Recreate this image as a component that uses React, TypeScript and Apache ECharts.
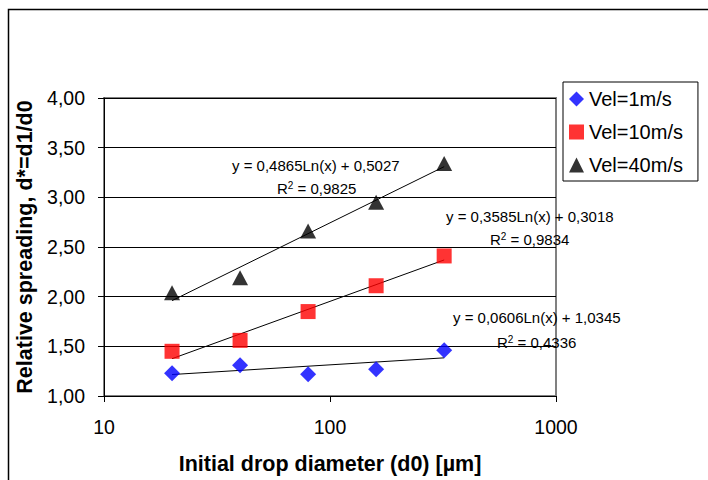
import React, { useEffect, useRef } from "react";
import * as echarts from "echarts";

// Initial drop diameters (µm)
const diameters = [20, 40, 80, 160, 320];
// Relative spreading d* = d1/d0 for each impact velocity
const vel1 = [1.23, 1.31, 1.22, 1.27, 1.46];
const vel10 = [1.45, 1.56, 1.85, 2.11, 2.41];
const vel40 = [2.04, 2.19, 2.66, 2.95, 3.34];

const seriesNames = ["Vel=1m/s", "Vel=10m/s", "Vel=40m/s"];
// Logarithmic trend lines y = a·ln(x) + b
const trendA = [0.0606, 0.3585, 0.4865];
const trendB = [1.0345, 0.3018, 0.5027];
const trendR2 = ["0,4336", "0,9834", "0,9825"];

const xTicks = [10, 100, 1000];
const yTicks = [1, 1.5, 2, 2.5, 3, 3.5, 4];

const FONT = "'Liberation Sans', Arial, sans-serif";

const comma = (v: number, d: number) => v.toFixed(d).replace(".", ",");

export default function App() {
  const ref = useRef<HTMLDivElement>(null);

  useEffect(() => {
    if (!ref.current) return;
    const chart = echarts.init(ref.current, undefined, { renderer: "svg" });

    const pts = (ys: number[]) => diameters.map((x, i) => [x, ys[i]]);
    const trend = (i: number) => {
      const x0 = diameters[0];
      const x1 = diameters[diameters.length - 1];
      return [
        [x0, trendA[i] * Math.log(x0) + trendB[i]],
        [x1, trendA[i] * Math.log(x1) + trendB[i]],
      ];
    };

    const eqText = (i: number) =>
      `y = ${comma(trendA[i], 4)}Ln(x) + ${comma(trendB[i], 4)}`;

    const eqStyle = { fontSize: 15, fontFamily: FONT, fill: "#000" };
    const r2Rich = {
      sup: { fontSize: 10, fontFamily: FONT, verticalAlign: "top", padding: [0, 0, 7, 0] },
      n: { fontSize: 15, fontFamily: FONT },
    };
    const eqLabel = (i: number, x: number, y: number, rx: number, ry: number) => [
      {
        type: "text",
        left: x,
        top: y,
        style: { ...eqStyle, text: eqText(i) },
      },
      {
        type: "text",
        left: rx,
        top: ry,
        style: {
          text: `{n|R}{sup|2}{n| = ${trendR2[i]}}`,
          rich: r2Rich,
          fill: "#000",
        },
      },
    ];

    const trendLine = (i: number) => ({
      name: "trend" + i,
      type: "line",
      data: trend(i),
      symbol: "none",
      silent: true,
      lineStyle: { color: "#000", width: 1 },
      z: 1,
    });

    chart.setOption({
      animation: false,
      backgroundColor: "#fff",
      grid: {
        left: 104,
        top: 98,
        width: 452,
        height: 300,
        show: true,
        borderColor: "#808080",
        borderWidth: 2,
        backgroundColor: "transparent",
      },
      legend: {
        orient: "vertical",
        left: 563,
        top: 82,
        data: [
          { name: seriesNames[0], icon: "diamond" },
          { name: seriesNames[1], icon: "rect" },
          { name: seriesNames[2], icon: "triangle" },
        ],
        itemWidth: 15,
        itemHeight: 15,
        itemGap: 13,
        padding: [7, 15, 6, 6],
        borderColor: "#000",
        borderWidth: 1,
        borderRadius: 0,
        backgroundColor: "#fff",
        textStyle: { fontSize: 20, fontFamily: FONT, color: "#000" },
      },
      xAxis: {
        type: "log",
        logBase: 10,
        min: xTicks[0],
        max: xTicks[xTicks.length - 1],
        name: "Initial drop diameter (d0) [µm]",
        nameLocation: "middle",
        nameGap: 57,
        nameTextStyle: { fontSize: 21.5, fontWeight: "bold", fontFamily: FONT, color: "#000" },
        axisLine: { show: true, lineStyle: { color: "#000", width: 1 } },
        axisTick: { show: true, inside: false, length: 6, lineStyle: { color: "#000" } },
        minorTick: { show: false },
        splitLine: { show: false },
        axisLabel: {
          fontSize: 19.5,
          fontFamily: FONT,
          color: "#000",
          margin: 21,
          formatter: (v: number) => String(Math.round(v)),
        },
      },
      yAxis: {
        type: "value",
        min: yTicks[0],
        max: yTicks[yTicks.length - 1],
        interval: 0.5,
        name: "Relative spreading, d*=d1/d0",
        nameLocation: "middle",
        nameGap: 67,
        nameTextStyle: { fontSize: 21.5, fontWeight: "bold", fontFamily: FONT, color: "#000" },
        axisLine: { show: true, lineStyle: { color: "#000", width: 1 } },
        axisTick: { show: true, inside: false, length: 6, lineStyle: { color: "#000" } },
        splitLine: { show: true, lineStyle: { color: "#000", width: 1 } },
        axisLabel: {
          fontSize: 19.5,
          fontFamily: FONT,
          color: "#000",
          margin: 19,
          formatter: (v: number) => comma(v, 2),
        },
      },
      series: [
        trendLine(0),
        trendLine(1),
        trendLine(2),
        {
          name: seriesNames[0],
          type: "scatter",
          data: pts(vel1),
          symbol: "diamond",
          symbolSize: [16, 16],
          itemStyle: { color: "#0000ff" },
          z: 3,
        },
        {
          name: seriesNames[1],
          type: "scatter",
          data: pts(vel10),
          symbol: "rect",
          symbolSize: [15, 15],
          itemStyle: { color: "#ff0000" },
          z: 3,
        },
        {
          name: seriesNames[2],
          type: "scatter",
          data: pts(vel40),
          symbol: "triangle",
          symbolSize: [16, 15],
          itemStyle: { color: "#000" },
          z: 3,
        },
      ],
      graphic: [
        {
          type: "rect",
          left: 6,
          top: 7,
          shape: { width: 740, height: 520 },
          style: { fill: "none", stroke: "#000", lineWidth: 1.5 },
          silent: true,
          z: -1,
        },
        ...eqLabel(2, 232, 158, 277, 180),
        ...eqLabel(1, 446, 209, 490, 231),
        ...eqLabel(0, 453, 310, 497, 334),
      ],
    });

    return () => chart.dispose();
  }, []);

  return (
    <div
      ref={ref}
      style={{ position: "fixed", left: 0, top: 0, width: 708, height: 480 }}
    />
  );
}
